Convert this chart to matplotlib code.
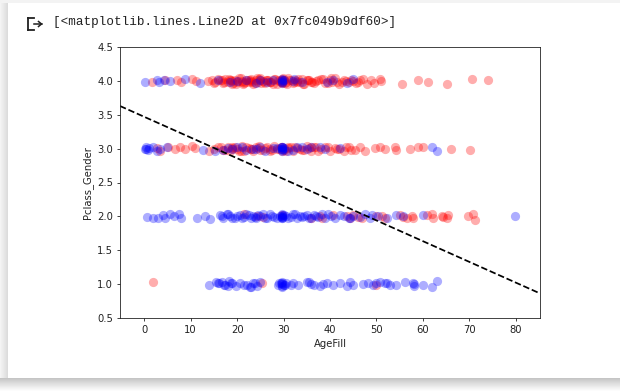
import numpy as np
import matplotlib
matplotlib.use("Agg")
import matplotlib.pyplot as plt
from matplotlib.lines import Line2D
from matplotlib.patches import Rectangle

# ---------------- data ----------------
# Pclass_Gender row 4 : died (red) / survived (blue)
ages_r4 = [1.6, 4.5, 7.0, 8.0, 10.2, 11.2, 13.8, 15.3, 16.3, 17.0,
           17.5, 18.0, 18.5, 19.0, 19.5, 20.0, 20.5, 21.0, 21.5, 22.0,
           22.5, 23.0, 23.5, 24.0, 24.5, 25.0, 25.5, 26.0, 26.5, 27.0,
           28.0, 28.5, 29.0, 29.7, 29.7, 29.7, 29.7, 30.0, 30.5, 31.0,
           32.0, 32.5, 33.0, 34.0, 34.5, 35.0, 36.0, 37.0, 38.0, 39.0,
           40.0, 40.5, 41.0, 42.0, 43.0, 44.0, 45.0, 45.5, 46.5, 47.9,
           48.9, 50.8, 51.0, 55.4, 59.0, 61.1, 65.1, 70.5, 74.0,
           18.2, 19.2, 20.3, 21.2, 22.3, 23.3, 24.3, 25.2, 26.2, 27.3,
           28.2, 30.8, 31.5, 33.5, 35.5, 36.5, 38.5, 41.5, 43.5, 16.8,
           14.5, 15.0, 16.0, 17.2, 18.7, 19.7, 20.8, 21.8, 22.7, 23.8,
           24.7, 25.8, 26.7, 27.7, 28.7, 29.4, 29.9, 30.3, 31.2, 32.2,
           33.2, 34.2, 35.2, 36.2, 37.5, 39.5, 40.2, 42.5, 44.5, 46.0,
           47.0, 49.5, 19.0, 21.0, 23.0, 25.0, 27.0, 29.7, 29.7, 33.0]
y_r4 = [3.98, 4.01, 4.02, 3.99, 4.03, 4.00, 4.00, 3.99, 4.02, 3.97,
        4.03, 3.99, 4.01, 3.96, 4.02, 3.98, 4.04, 4.00, 3.97, 4.02,
        3.99, 4.03, 3.96, 4.01, 3.98, 4.04, 4.00, 3.97, 4.02, 3.99,
        4.03, 3.96, 4.00, 4.03, 3.97, 4.01, 3.99, 4.02, 3.98, 4.04,
        3.97, 4.01, 3.99, 4.03, 3.96, 4.02, 3.98, 4.00, 4.03, 3.97,
        4.01, 3.99, 4.04, 3.96, 4.02, 3.98, 4.00, 3.97, 4.02, 3.96,
        4.01, 4.03, 4.00, 3.95, 4.02, 3.99, 3.95, 4.03, 4.02,
        4.03, 3.97, 4.00, 3.96, 4.02, 3.99, 4.04, 3.97, 4.01, 3.98,
        4.03, 3.96, 4.02, 3.99, 4.01, 3.97, 4.03, 3.98, 4.00, 4.01,
        4.01, 3.97, 4.03, 3.99, 4.02, 3.96, 4.04, 3.98, 4.01, 3.97,
        4.03, 3.99, 4.02, 3.96, 4.01, 3.98, 4.04, 3.97, 4.02, 3.99,
        4.03, 3.96, 4.01, 3.98, 4.02, 3.97, 4.04, 3.99, 4.01, 3.98,
        4.03, 3.97, 4.00, 3.98, 4.00, 4.02, 3.98, 4.01, 3.99, 4.00]
ages_b4 = [0.2, 2.7, 3.1, 4.2, 5.6, 8.8, 12.0, 16.0, 18.5, 19.9,
           22.0, 24.0, 25.0, 26.5, 27.8, 29.7, 29.7, 29.7, 29.7, 29.7,
           30.0, 32.0, 32.3, 34.0, 39.3, 40.6, 43.7, 45.0]
y_b4 = [3.99, 4.02, 3.98, 4.01, 4.00, 4.03, 3.97, 4.01, 3.98, 4.00,
        4.02, 3.97, 4.01, 3.99, 4.02, 4.00, 4.03, 3.97, 4.01, 3.98,
        4.02, 4.00, 4.03, 3.98, 3.99, 4.01, 3.97, 4.03]

# row 3
ages_r3 = [2.7, 3.4, 5.2, 6.7, 7.7, 8.8, 10.3, 11.0, 14.0, 16.0,
           17.0, 18.0, 18.5, 19.0, 20.0, 21.0, 21.5, 22.0, 23.0, 23.5,
           24.0, 25.0, 26.0, 27.0, 28.0, 29.0, 29.7, 29.7, 30.0, 31.0,
           32.0, 33.0, 34.0, 35.0, 36.0, 37.0, 38.0, 39.0, 40.0, 41.0,
           42.0, 43.0, 44.0, 45.4, 46.5, 47.5, 49.7, 50.8, 51.8, 54.0,
           54.2, 57.2, 59.0, 60.0, 66.0, 70.1,
           18.8, 20.5, 24.5, 27.5, 31.5, 33.5, 36.5,
           15.0, 16.5, 17.5, 19.5, 20.8, 22.5, 24.8, 25.5, 26.5, 28.5,
           29.5, 30.5, 31.0, 32.5, 34.5, 35.5, 37.5, 39.5, 41.5, 43.5,
           44.5, 19.0, 23.0, 27.0, 30.0, 36.0]
y_r3 = [3.01, 2.96, 3.02, 2.99, 3.03, 3.00, 3.04, 3.01, 2.97, 3.02,
        2.98, 3.03, 2.96, 3.01, 2.99, 3.04, 2.97, 3.02, 3.00, 2.96,
        3.03, 2.98, 3.01, 2.97, 3.04, 2.99, 3.02, 2.96, 3.00, 3.03,
        2.97, 3.01, 2.98, 3.04, 2.96, 3.02, 2.99, 3.03, 2.97, 3.01,
        3.00, 2.96, 3.03, 2.98, 3.02, 2.97, 3.01, 3.02, 2.99, 3.03,
        2.98, 3.00, 3.02, 3.02, 3.00, 2.98,
        3.02, 2.97, 3.01, 2.98, 3.03, 2.99, 3.02,
        3.00, 3.03, 2.98, 3.02, 2.97, 3.01, 3.04, 2.98, 3.02, 2.99,
        3.03, 2.97, 3.01, 3.02, 2.98, 3.01, 2.97, 3.03, 2.99, 3.02,
        2.98, 3.00, 3.00, 3.00, 2.98, 3.03]
ages_b3 = [0.2, 0.4, 0.9, 1.0, 2.0, 2.7, 3.4, 4.9, 12.7, 15.3,
           18.1, 18.9, 21.0, 22.0, 23.5, 25.0, 26.0, 27.8, 29.7, 29.7,
           29.7, 29.7, 29.7, 30.0, 32.0, 33.0, 35.0, 36.0, 37.8, 42.2,
           61.9, 63.0,
           17.0, 20.0, 24.0, 28.5, 29.7, 29.7, 31.0, 34.0, 39.0, 0.3]
y_b3 = [2.99, 3.02, 2.98, 3.01, 3.03, 2.97, 3.00, 3.02, 2.98, 2.97,
        3.01, 2.99, 3.02, 2.98, 3.00, 3.03, 2.97, 3.01, 2.99, 3.02,
        2.97, 3.03, 3.00, 3.01, 2.98, 3.02, 2.99, 3.02, 3.03, 3.01,
        3.02, 2.96,
        2.98, 3.02, 2.99, 3.01, 3.02, 2.98, 2.97, 3.02, 2.99, 3.00]

# row 2
ages_r2 = [21.4, 24.2, 25.5, 29.7, 36.0, 37.8, 38.2, 40.7, 43.6, 44.3,
           45.0, 46.1, 46.8, 50.0, 51.1, 51.8, 55.1, 55.8, 56.5, 57.6,
           57.9, 60.8, 61.9, 62.2, 64.0, 64.4, 65.1, 65.4, 69.7, 70.8,
           71.2]
y_r2 = [2.03, 2.01, 1.99, 2.02, 1.98, 2.00, 1.97, 2.02, 2.01, 1.98,
        2.02, 1.99, 1.97, 2.01, 2.00, 1.98, 2.02, 1.99, 1.97, 2.01,
        1.98, 2.02, 2.03, 1.98, 2.01, 1.99, 1.98, 2.02, 2.01, 2.04,
        1.95]
ages_b2 = [0.6, 1.9, 3.0, 4.1, 4.5, 5.6, 6.5, 7.4, 8.0, 11.3,
           13.1, 14.2, 16.3, 17.0, 17.8, 18.5, 19.0, 20.6, 21.5, 22.0,
           23.0, 23.5, 24.0, 24.5, 25.0, 26.4, 27.0, 28.0, 29.2, 29.7,
           29.7, 29.7, 29.7, 29.7, 30.5, 31.0, 32.0, 33.5, 34.0, 35.0,
           36.0, 37.0, 38.2, 39.0, 40.3, 42.1, 44.3, 45.0, 46.5, 47.5,
           48.6, 49.0, 50.4, 52.2, 54.3, 55.8, 60.0, 79.8,
           16.8, 18.0, 19.5, 20.0, 21.0, 22.5, 23.8, 25.5, 26.0, 27.5,
           28.5, 30.0, 31.5, 32.5, 33.0, 34.5, 35.5, 36.5, 37.5, 39.5,
           41.0, 43.0, 44.0, 29.7, 29.7]
y_b2 = [1.99, 1.98, 1.97, 2.02, 1.98, 2.03, 2.01, 2.04, 1.97, 1.98,
        2.01, 1.96, 2.02, 1.98, 2.03, 2.00, 1.97, 2.02, 1.99, 2.03,
        1.98, 2.01, 1.97, 2.02, 2.00, 1.98, 2.03, 1.99, 2.01, 1.97,
        2.03, 1.99, 2.02, 1.98, 2.00, 1.97, 2.03, 2.01, 1.99, 2.02,
        1.98, 2.01, 2.03, 1.97, 2.00, 2.02, 1.98, 2.01, 1.99, 2.03,
        1.97, 2.02, 2.00, 1.98, 2.02, 2.00, 2.02, 2.00,
        2.00, 2.03, 1.98, 2.01, 1.97, 2.02, 1.99, 2.03, 1.97, 2.01,
        1.98, 2.02, 1.99, 2.03, 1.98, 2.01, 1.97, 2.02, 1.99, 2.03,
        1.98, 2.01, 1.98, 2.01, 1.99]

# row 1
ages_r1 = [1.9, 25.3, 50.0]
y_r1 = [1.03, 1.02, 0.98]
ages_b1 = [14.0, 15.5, 16.2, 17.2, 18.3, 18.6, 19.8, 20.6, 22.1, 22.8,
           23.9, 25.0, 28.9, 29.5, 29.7, 29.7, 29.7, 29.7, 29.7, 30.3,
           32.0, 33.2, 35.0, 36.0, 37.8, 39.3, 40.7, 42.1, 43.6, 44.3,
           47.2, 48.2, 49.3, 50.8, 51.8, 52.2, 54.3, 56.1, 57.9, 58.0,
           60.1, 61.9, 63.0, 16.8, 18.0, 23.0,
           16.0, 17.5, 18.8, 21.5, 23.5, 24.3, 29.0, 30.0, 30.5, 31.5,
           35.5, 36.5, 38.5, 45.0, 50.0, 53.0, 58.0]
y_b1 = [0.99, 1.03, 1.02, 0.98, 1.04, 1.01, 0.97, 1.02, 0.99, 0.96,
        1.01, 1.03, 0.98, 1.02, 0.97, 1.00, 1.03, 0.96, 1.01, 0.99,
        1.02, 0.98, 1.03, 1.00, 0.97, 1.02, 0.99, 1.01, 0.97, 1.03,
        1.00, 1.02, 0.98, 1.03, 1.01, 1.02, 0.99, 1.03, 1.02, 0.97,
        0.98, 0.96, 1.04, 1.03, 0.97, 0.96,
        1.02, 0.99, 1.01, 0.98, 1.02, 0.97, 1.01, 0.98, 1.02, 0.99,
        1.03, 0.98, 1.00, 0.99, 1.01, 0.98, 1.00]

# decision line  y = intercept + slope * AgeFill
line_intercept = 3.47
line_slope = -0.0306

x_ticks = [0, 10, 20, 30, 40, 50, 60, 70, 80]
y_ticks = [0.5, 1.0, 1.5, 2.0, 2.5, 3.0, 3.5, 4.0, 4.5]
header_text = "[<matplotlib.lines.Line2D at 0x7fc049b9df60>]"

# ---------------- figure ----------------
W, H = 620, 391
fig = plt.figure(figsize=(W / 100, H / 100), dpi=100)
fig.patch.set_facecolor("white")


def fx(x):
    return x / W


def fy(y):
    return 1 - y / H


# Colab card frame: top strip, left and bottom shadows
top = fig.add_axes([0, fy(2.5), 1, 2.5 / H])
top.set_axis_off()
top.add_patch(Rectangle((0, 0), 1, 1, color="#f3f3f3", transform=top.transAxes))

left = fig.add_axes([0, fy(378), fx(8), (378 - 2.5) / H])
left.set_axis_off()
grad_l = np.linspace(0.96, 0.86, 16).reshape(1, -1)
left.imshow(grad_l, cmap="gray", vmin=0, vmax=1, aspect="auto",
            extent=[0, 1, 0, 1], interpolation="bilinear")

bot = fig.add_axes([0, 0, 1, (H - 378) / H])
bot.set_axis_off()
grad_b = np.linspace(0.62, 0.99, 26).reshape(-1, 1) ** 0.6
bot.imshow(grad_b, cmap="gray", vmin=0, vmax=1, aspect="auto",
           extent=[0, 1, 0, 1], interpolation="bilinear")

# output icon  [->
icon_col = "#212121"
lw_icon = 1.3
fig.add_artist(Line2D([fx(27.5), fx(27.5)], [fy(17.5), fy(30)], color=icon_col, lw=lw_icon))
fig.add_artist(Line2D([fx(27.5), fx(33.5)], [fy(17.5), fy(17.5)], color=icon_col, lw=lw_icon))
fig.add_artist(Line2D([fx(27.5), fx(33.5)], [fy(30), fy(30)], color=icon_col, lw=lw_icon))
fig.add_artist(Line2D([fx(34), fx(41.5)], [fy(24), fy(24)], color=icon_col, lw=1.1))
fig.add_artist(Line2D([fx(38.5), fx(41.5), fx(38.5)], [fy(21.5), fy(24), fy(26.5)],
                      color=icon_col, lw=1.1))

fig.text(fx(53), fy(22.5), header_text, family="Liberation Mono", fontsize=9.1,
         color="#212121", ha="left", va="center")

# main axes
ax = fig.add_axes([fx(120), fy(318), fx(540) - fx(120), (318 - 47) / H])

red_ages = ages_r4 + ages_r3 + ages_r2 + ages_r1
red_y = y_r4 + y_r3 + y_r2 + y_r1
blue_ages = ages_b4 + ages_b3 + ages_b2 + ages_b1
blue_y = y_b4 + y_b3 + y_b2 + y_b1
assert len(red_ages) == len(red_y) and len(blue_ages) == len(blue_y)
ax.scatter(red_ages, red_y, s=44, color="#ff0000", alpha=0.32, linewidths=0)
ax.scatter(blue_ages, blue_y, s=44, color="#0000ff", alpha=0.32, linewidths=0)

xlim = (-5.2, 85.2)
xs = np.array(xlim)
ax.plot(xs, line_intercept + line_slope * xs, color="black", ls="--", lw=1.25)

ax.set_xlim(*xlim)
ax.set_ylim(0.5, 4.5)
ax.set_xticks(x_ticks)
ax.set_yticks(y_ticks)
ax.set_yticklabels([f"{v:.1f}" for v in y_ticks])
ax.tick_params(labelsize=7.2, colors="#222222", length=2.5, width=0.6, pad=2.5)
for sp in ax.spines.values():
    sp.set_linewidth(0.6)
    sp.set_color("#222222")
ax.set_xlabel("AgeFill", fontsize=7.2, color="#222222", labelpad=3)
ax.set_ylabel("Pclass_Gender", fontsize=7.2, color="#222222", labelpad=3)

fig.savefig("out.png", dpi=100)
